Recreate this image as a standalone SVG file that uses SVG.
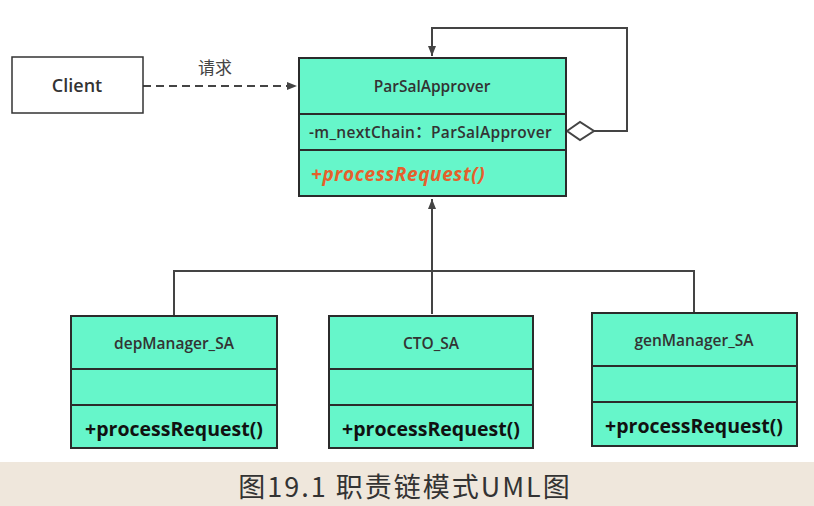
<svg xmlns="http://www.w3.org/2000/svg" width="814" height="506" viewBox="0 0 814 506">
<defs>
<style>
.cls{fill:#66F6CA;stroke:#2b2b2b;stroke-width:2}
.div{stroke:#2b2b2b;stroke-width:2}
.title{font-family:"Open Sans","Noto Sans CJK SC",sans-serif;font-weight:600;font-size:15.5px;fill:#333;text-anchor:middle}
.op{font-family:"Open Sans","Noto Sans CJK SC",sans-serif;font-weight:700;font-size:19.5px;fill:#111;text-anchor:middle}
.conn{fill:none;stroke:#444;stroke-width:2}
</style>
<marker id="arrL" viewBox="0 0 10 10" refX="10" refY="5" markerWidth="10" markerHeight="10" orient="auto" markerUnits="userSpaceOnUse">
<path d="M0,1 L10,5 L0,9 Z" fill="#444"/>
</marker>
</defs>
<rect x="0" y="0" width="814" height="506" fill="#fff"/>
<rect x="0" y="462" width="814" height="44" fill="#EFE7DC"/>

<g id="connectors">
<path class="conn" d="M143,86 L297,86" stroke-dasharray="8,5" marker-end="url(#arrL)"/>
<path class="conn" d="M594,131 L627,131 L627,28 L432,28 L432,56" marker-end="url(#arrL)"/>
<path d="M567,131 L580,122 L594,131 L580,140 Z" fill="#fff" stroke="#444" stroke-width="2"/>
<path class="conn" d="M432,314 L432,199" marker-end="url(#arrL)"/>
<path class="conn" d="M174,316 L174,271 L694,271 L694,313"/>
</g>
<text x="215" y="74" font-family="'Noto Sans CJK SC',sans-serif" font-size="17" fill="#444" text-anchor="middle">请求</text>

<g id="client">
<rect x="12" y="57" width="131" height="56" fill="#fff" stroke="#333" stroke-width="1.5"/>
<text x="77" y="92" font-family="'Open Sans',sans-serif" font-weight="600" font-size="18" fill="#333" text-anchor="middle">Client</text>
</g>

<g id="parsalapprover">
<rect class="cls" x="299" y="58" width="267" height="138"/>
<line class="div" x1="299" y1="114" x2="566" y2="114"/>
<line class="div" x1="299" y1="150" x2="566" y2="150"/>
<text class="title" x="432" y="92">ParSalApprover</text>
<text x="309" y="138" font-family="'Open Sans','Noto Sans CJK SC',sans-serif" font-weight="600" font-size="15.5" fill="#333" letter-spacing="0.3">-m_nextChain：ParSalApprover</text>
<text x="311" y="181" font-family="'Open Sans',sans-serif" font-weight="700" font-style="italic" font-size="19" fill="#E5602C" letter-spacing="0.6">+processRequest()</text>
</g>

<g id="depManager">
<rect class="cls" x="71" y="316" width="206" height="132"/>
<line class="div" x1="71" y1="369" x2="277" y2="369"/>
<line class="div" x1="71" y1="405" x2="277" y2="405"/>
<text class="title" x="174" y="349">depManager_SA</text>
<text class="op" x="174" y="436">+processRequest()</text>
</g>

<g id="cto">
<rect class="cls" x="329" y="316" width="204" height="132"/>
<line class="div" x1="329" y1="369" x2="533" y2="369"/>
<line class="div" x1="329" y1="405" x2="533" y2="405"/>
<text class="title" x="431" y="349">CTO_SA</text>
<text class="op" x="431" y="436">+processRequest()</text>
</g>

<g id="genManager">
<rect class="cls" x="592" y="313" width="205" height="133"/>
<line class="div" x1="592" y1="366" x2="797" y2="366"/>
<line class="div" x1="592" y1="402" x2="797" y2="402"/>
<text class="title" x="694" y="346">genManager_SA</text>
<text class="op" x="694" y="433">+processRequest()</text>
</g>

<text x="405" y="497" font-family="'Noto Sans CJK SC',sans-serif" font-size="27" fill="#333" text-anchor="middle" letter-spacing="2">图19.1 职责链模式UML图</text>
</svg>
